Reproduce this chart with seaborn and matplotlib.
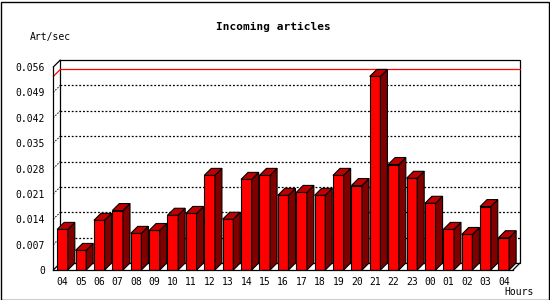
import matplotlib
matplotlib.use("Agg")
import matplotlib.pyplot as plt
from matplotlib.patches import Polygon, Rectangle
import seaborn as sns
import pandas as pd
import numpy as np

# ---- data ----
hours = ["04", "05", "06", "07", "08", "09", "10", "11", "12", "13", "14", "15",
         "16", "17", "18", "19", "20", "21", "22", "23", "00", "01", "02", "03", "04"]
rates = [0.0112, 0.0054, 0.0137, 0.0164, 0.0101, 0.0109, 0.0151, 0.0156, 0.0261,
         0.0140, 0.0250, 0.0261, 0.0206, 0.0214, 0.0206, 0.0261, 0.0233, 0.0534,
         0.0291, 0.0253, 0.0184, 0.0112, 0.0098, 0.0175, 0.0089]
yticks = [0, 0.007, 0.014, 0.021, 0.028, 0.035, 0.042, 0.049, 0.056]
ytick_labels = ["0", "0.007", "0.014", "0.021", "0.028", "0.035", "0.042", "0.049", "0.056"]
title = "Incoming articles"
ylabel = "Art/sec"
xlabel = "Hours"

sns.set_style("white")
plt.rcParams['font.family'] = ['DejaVu Sans Mono', 'DejaVu Sans']
plt.rcParams.update({"text.color": "black", "xtick.color": "black",
                     "ytick.color": "black", "axes.labelcolor": "black"})

W, H = 550, 300
fig = plt.figure(figsize=(5.5, 3.0), dpi=100)
ax_l, ax_r, ax_b, ax_t = 53.3, 513.0, 270.0, 67.0
ax = fig.add_axes([ax_l / W, 1 - ax_b / H, (ax_r - ax_l) / W, (ax_b - ax_t) / H])
ax.set_facecolor("none")

n = len(rates)
df = pd.DataFrame({"slot": list(range(n)), "rate": rates})
sns.barplot(data=df, x="slot", y="rate", ax=ax, color="#ff0000", saturation=1,
            width=0.58, edgecolor="black", linewidth=0.8, zorder=5)
bars = list(ax.patches)

ymax = yticks[-1]
x0, x1 = -0.5, n - 0.5
ax.set_xlim(x0, x1)
ax.set_ylim(0, ymax)

# depth offsets (7 px) in data units
px_x = (ax_r - ax_l) / (x1 - x0)
px_y = (ax_b - ax_t) / ymax
dx = 7 / px_x
dy = 7 / px_y

# back plane
ax.add_patch(Rectangle((x0 + dx, dy), x1 - x0, ymax, facecolor="white",
                       edgecolor="black", linewidth=0.9, zorder=0.1, clip_on=False))
# dotted gridlines on back plane + left wall
for v in yticks[1:-1]:
    ax.plot([x0 + dx, x1 + dx], [v + dy, v + dy], color="black", lw=0.9,
            linestyle=(0, (1.5, 1.5)), zorder=0.5, clip_on=False)
    ax.plot([x0, x0 + dx], [v, v + dy], color="black", lw=0.7,
            linestyle=(0, (1.5, 1.5)), zorder=0.5, clip_on=False)
# max line (red)
mv = max(rates)
ax.plot([x0 + dx, x1 + dx], [mv + dy, mv + dy], color="#ff0000", lw=0.9,
        zorder=0.6, clip_on=False)
ax.plot([x0, x0 + dx], [mv, mv + dy], color="#ff0000", lw=0.9, zorder=0.6, clip_on=False)
# frame diagonals
ax.plot([x0, x0 + dx], [ymax, ymax + dy], color="black", lw=0.9, clip_on=False, zorder=0.7)
ax.plot([x0, x0 + dx], [0, dy], color="black", lw=0.9, clip_on=False, zorder=0.7)
ax.plot([x1, x1 + dx], [0, dy], color="black", lw=0.9, clip_on=False, zorder=0.7)

# 3D faces from the seaborn bars
for p in bars:
    bx, bw, bh = p.get_x(), p.get_width(), p.get_height()
    # floor footprint (gray shadow)
    ax.add_patch(Polygon([(bx, 0), (bx + bw, 0), (bx + bw + dx, dy), (bx + dx, dy)],
                         closed=True, facecolor="#8c8c8c", edgecolor="none",
                         zorder=1, clip_on=False))
    # side face
    ax.add_patch(Polygon([(bx + bw, 0), (bx + bw + dx, dy), (bx + bw + dx, bh + dy), (bx + bw, bh)],
                         closed=True, facecolor="#800000", edgecolor="black",
                         linewidth=0.8, zorder=5, clip_on=False))
    # top face
    ax.add_patch(Polygon([(bx, bh), (bx + bw, bh), (bx + bw + dx, bh + dy), (bx + dx, bh + dy)],
                         closed=True, facecolor="#c00000", edgecolor="black",
                         linewidth=0.8, zorder=5, clip_on=False))

# axes styling
for s in ["top", "right"]:
    ax.spines[s].set_visible(False)
for s in ["left", "bottom"]:
    ax.spines[s].set_color("black")
    ax.spines[s].set_linewidth(0.9)
    ax.spines[s].set_zorder(6)

ax.set_yticks(yticks)
ax.set_yticklabels(ytick_labels, fontsize=7)
ax.tick_params(axis="y", direction="out", length=2.5, width=0.8, pad=3.5, color="black")
ax.set_xticks(list(range(n)))
ax.set_xticklabels(hours, fontsize=7)
ax.set_xticks([i - 0.5 for i in range(n + 1)], minor=True)
ax.tick_params(axis="x", which="major", length=0, pad=5)
ax.tick_params(axis="x", which="minor", direction="out", length=3, width=0.8, color="black")
ax.set_xlabel("")
ax.set_ylabel("")

fig.text(273 / W, 1 - 27.3 / H, title, ha="center", va="center",
         fontsize=8, fontweight="bold", color="black")
fig.text(30 / W, 1 - 37 / H, ylabel, ha="left", va="center", fontsize=7, color="black")
fig.text(534 / W, 1 - 292 / H, xlabel, ha="right", va="center", fontsize=7, color="black")

fig.patches.append(Rectangle((0.5 / W, 0.5 / H), 1 - 2 / W, 1 - 2 / H,
                             transform=fig.transFigure, fill=False,
                             edgecolor="black", linewidth=1.0))

fig.savefig("out.png", dpi=100, facecolor="white")
